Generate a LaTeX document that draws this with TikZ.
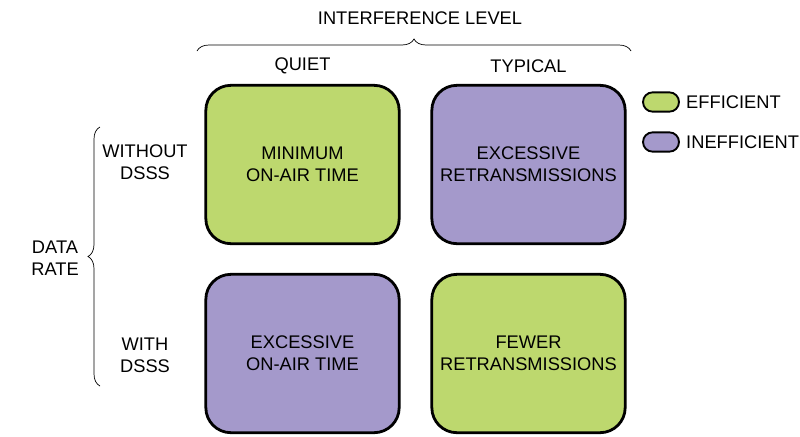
\documentclass[tikz,border=0pt]{standalone}
\usepackage{fontspec}
\setmainfont{Liberation Sans}
\usetikzlibrary{decorations.pathreplacing}
\definecolor{effgreen}{HTML}{BDD86E}
\definecolor{ineffpurple}{HTML}{A499CB}

\begin{document}
\begin{tikzpicture}[
        x=0.03cm, y=-0.03cm,
        every node/.style={font=\fontsize{15.6}{18.5}\selectfont, align=center},
        cell/.style={draw, line width=2.4pt, rounded corners=0.75cm,
            minimum width=5.8cm, minimum height=4.75cm},
        good cell/.style={cell, fill=effgreen},
        bad cell/.style={cell, fill=ineffpurple},
        pill/.style={draw, line width=1.6pt, rounded corners=0.29cm,
            minimum width=1.08cm, minimum height=0.58cm, inner sep=0pt},
        bracket/.style={decorate, semithick, decoration={brace, amplitude=0.36cm}}
    ]
        \useasboundingbox (0,0) rectangle (800,436);

        % grid of outcomes
        \node[good cell] (q1) at (302.5,164.5) {MINIMUM\\ON-AIR TIME};
        \node[bad cell]  (t1) at (528.5,164.5) {EXCESSIVE\\RETRANSMISSIONS};
        \node[bad cell]  (q2) at (302.5,353.5) {EXCESSIVE\\ON-AIR TIME};
        \node[good cell] (t2) at (528.5,353.5) {FEWER\\RETRANSMISSIONS};

        % column headings
        \node (lvl) at (420,18) {INTERFERENCE LEVEL};
        \node (quiet) at (q1 |- 0,66) {QUIET};
        \node (typical) at (t1 |- 0,66) {TYPICAL};
        \coordinate (tl) at (197,51);
        \coordinate (tr) at (631,51);
        \draw[bracket] (tl) -- (tr);

        % row headings
        \node (rate) at (55,258) {DATA\\RATE};
        \node (nods) at (145,162) {WITHOUT\\DSSS};
        \node (ds) at (145,355) {WITH\\DSSS};
        \coordinate (lb) at (100,386);
        \coordinate (lt) at (100,127);
        \draw[bracket] (lb) -- (lt);

        % legend
        \node[pill, fill=effgreen] (k1) at (661,102) {};
        \node[pill, fill=ineffpurple] (k2) at (661,142) {};
        \node[anchor=west, inner sep=0pt] (k1t) at (686,102) {EFFICIENT};
        \node[anchor=west, inner sep=0pt] (k2t) at (686,142) {INEFFICIENT};
    \end{tikzpicture}
\end{document}
